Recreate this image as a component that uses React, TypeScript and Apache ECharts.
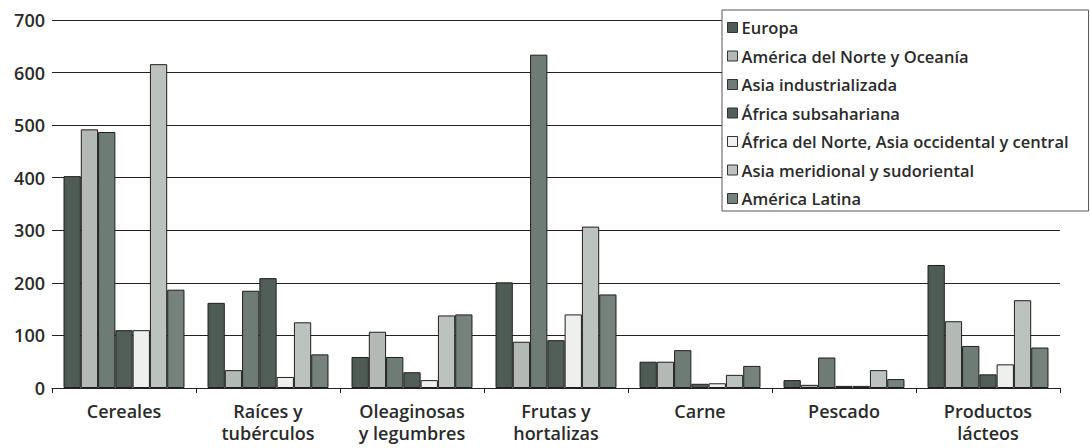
import React, { useEffect, useRef } from "react";
import * as echarts from "echarts";

const categories = [
  "Cereales",
  "Raíces y\ntubérculos",
  "Oleaginosas\ny legumbres",
  "Frutas y\nhortalizas",
  "Carne",
  "Pescado",
  "Productos\nlácteos",
];

const seriesNames = [
  "Europa",
  "América del Norte y Oceanía",
  "Asia industrializada",
  "África subsahariana",
  "África del Norte, Asia occidental y central",
  "Asia meridional y sudoriental",
  "América Latina",
];

const europa = [403, 162, 59, 201, 50, 15, 234];
const norteOceania = [492, 34, 107, 88, 50, 6, 127];
const asiaIndustrializada = [487, 185, 59, 634, 72, 58, 80];
const africaSubsahariana = [110, 209, 30, 91, 8, 4, 26];
const africaNorte = [110, 21, 15, 140, 9, 4, 45];
const asiaMeridional = [616, 125, 138, 307, 25, 34, 167];
const americaLatina = [187, 64, 140, 178, 42, 17, 77];

const seriesValues = [
  europa,
  norteOceania,
  asiaIndustrializada,
  africaSubsahariana,
  africaNorte,
  asiaMeridional,
  americaLatina,
];

const colors = ["#4f5c55", "#b3bab6", "#6f7b75", "#525e58", "#eef0ee", "#bcc3bf", "#76827c"];

const yTicks = [0, 100, 200, 300, 400, 500, 600, 700];

export default function App() {
  const ref = useRef<HTMLDivElement>(null);
  useEffect(() => {
    if (!ref.current) return;
    const chart = echarts.init(ref.current, undefined, { renderer: "svg" });
    const font = "'Open Sans', 'Noto Sans', sans-serif";
    chart.setOption({
      animation: false,
      backgroundColor: "#ffffff",
      grid: { left: 52, right: 30, top: 20, bottom: 60, containLabel: false },
      legend: {
        orient: "vertical",
        left: 722,
        top: 10,
        data: seriesNames,
        itemWidth: 10,
        itemHeight: 10,
        itemGap: 11.5,
        padding: [9, 20, 4, 5],
        backgroundColor: "#ffffff",
        borderColor: "#555",
        borderWidth: 1,
        icon: "rect",
        itemStyle: { borderColor: "#333", borderWidth: 1 },
        textStyle: {
          fontFamily: font,
          fontSize: 16.5,
          fontWeight: 600,
          color: "#2a2a2a",
          padding: [0, 0, 0, -1],
        },
        z: 10,
      },
      xAxis: {
        type: "category",
        data: categories,
        boundaryGap: true,
        axisLine: { show: true, lineStyle: { color: "#222", width: 1 } },
        axisTick: { show: true, alignWithLabel: false, length: 5, lineStyle: { color: "#222" } },
        axisLabel: {
          fontFamily: font,
          fontSize: 18,
          fontWeight: 600,
          color: "#2a2a2a",
          margin: 12,
          lineHeight: 22,
          interval: 0,
        },
      },
      yAxis: {
        type: "value",
        min: yTicks[0],
        max: yTicks[yTicks.length - 1],
        interval: 100,
        axisLine: { show: false },
        axisTick: { show: false },
        axisLabel: {
          fontFamily: font,
          fontSize: 18,
          fontWeight: 600,
          color: "#2a2a2a",
          margin: 7,
        },
        splitLine: { show: true, lineStyle: { color: "#222", width: 1 } },
      },
      series: seriesValues.map((vals, i) => ({
        name: seriesNames[i],
        type: "bar",
        data: vals,
        barGap: "0%",
        barCategoryGap: "16%",
        itemStyle: { color: colors[i], borderColor: "#1e1e1e", borderWidth: 1 },
      })),
    });
    return () => chart.dispose();
  }, []);
  return (
    <div
      ref={ref}
      style={{ position: "fixed", left: 0, top: 0, width: 1090, height: 448 }}
    />
  );
}
